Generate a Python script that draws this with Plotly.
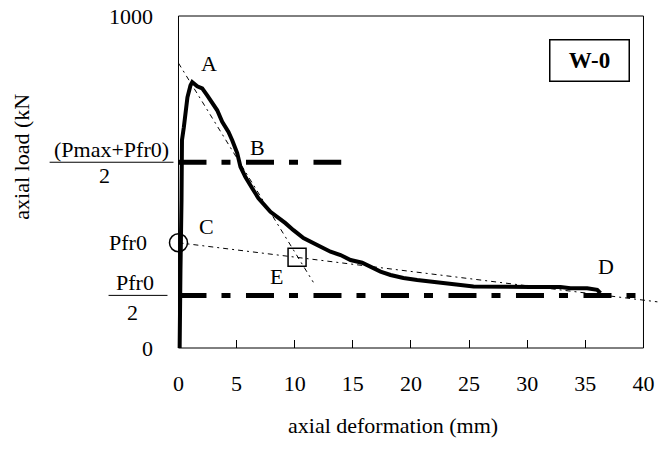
import plotly.graph_objects as go

# ---------------- data ----------------
deform = [0.1, 0.1, 0.1, 0.17, 0.26, 0.30, 0.46, 0.60, 0.77, 1.03, 1.18, 1.61, 2.04,
          2.47, 2.90, 3.33, 3.76, 4.30, 4.62, 5.05, 5.33, 5.76, 6.34, 6.88, 7.91,
          8.49, 9.20, 9.89, 10.75, 11.93, 13.08, 13.94, 14.80, 15.80, 16.52, 17.38,
          18.24, 19.35, 20.53, 21.68, 22.80, 23.97, 25.38, 30.28, 32.86, 33.72,
          35.16, 36.02, 36.30]
load = [0, 144, 214, 235, 445, 626, 665, 716, 755, 791, 801, 788, 782,
        761, 741, 716, 681, 651, 626, 587, 546, 515, 481, 451, 410,
        395, 376, 355, 331, 310, 290, 280, 265, 257, 245, 230,
        220, 211, 205, 200, 196, 190, 185, 184, 184, 180,
        180, 175, 165]

P_MAX = 802
P_FR0 = 317
mid_level = (P_MAX + P_FR0) / 2
half_level = P_FR0 / 2
mid_x = [0, 14.0]
half_x = [0, 39.5]

ab_x = [0, 11.6]
ab_y = [858, 198]
cd_x = [0, 41.2]
cd_y = [317, 139]
e_x = [10.2]
e_y = [273]

x_ticks = [0, 5, 10, 15, 20, 25, 30, 35, 40]
y_ticks = [0, 1000]

pt_labels = ["A", "B", "C", "D", "E"]
pt_lab_x = [2.6, 6.8, 2.4, 36.8, 8.4]
pt_lab_y = [858, 605, 367, 247, 214]

X_FRAME = 40
X_MIN = -0.3
X_MAX = 41.25
Y_MAX = 1000

FONT = "Liberation Serif, Times New Roman, serif"
FS = 22

# plot-area geometry (pixels)
W, H = 658, 459
X0_PX = 178                      # pixel of x = 0
PX_PER_MM = (W - X0_PX) / X_MAX
L = X0_PX + X_MIN * PX_PER_MM
T, R, B = 16, 0, 111
PW = W - L - R
PH = H - T - B


def px_x(p):
    return (p - L) / PW


def px_y(p):
    return (H - B - p) / PH


def data_x_paper(v):
    return (v - X_MIN) / (X_MAX - X_MIN)


def txt(x, y, text, **kw):
    d = dict(x=x, y=y, xref="paper", yref="paper", text=text, showarrow=False,
             xanchor="center", yanchor="middle",
             font=dict(size=FS, family=FONT, color="black"))
    d.update(kw)
    return d


fig = go.Figure()

thick_dash = "28px,15px,9px,15.5px"
thin_dash = "5px,4px,2px,4px"

fig.add_trace(go.Scatter(x=mid_x, y=[mid_level, mid_level], mode="lines",
                         line=dict(color="black", width=5, dash=thick_dash)))
fig.add_trace(go.Scatter(x=half_x, y=[half_level, half_level], mode="lines",
                         line=dict(color="black", width=5, dash=thick_dash)))
fig.add_trace(go.Scatter(x=ab_x, y=ab_y, mode="lines",
                         line=dict(color="black", width=1, dash=thin_dash)))
fig.add_trace(go.Scatter(x=cd_x, y=cd_y, mode="lines",
                         line=dict(color="black", width=1, dash=thin_dash)))
fig.add_trace(go.Scatter(x=deform, y=load, mode="lines",
                         line=dict(color="black", width=4)))
fig.add_trace(go.Scatter(x=[0], y=[P_FR0], mode="markers", cliponaxis=False,
                         marker=dict(symbol="circle-open", size=18, color="black",
                                     line=dict(width=1.5, color="black"))))
fig.add_trace(go.Scatter(x=e_x, y=e_y, mode="markers", cliponaxis=False,
                         marker=dict(symbol="square-open", size=18, color="black",
                                     line=dict(width=1.5, color="black"))))

annotations = []
for t, xx, yy in zip(pt_labels, pt_lab_x, pt_lab_y):
    annotations.append(dict(x=xx, y=yy, xref="x", yref="y", text=t, showarrow=False,
                            xanchor="center", yanchor="middle",
                            font=dict(size=FS, family=FONT, color="black")))

# y-axis fraction labels and titles
annotations += [
    txt(px_x(111), mid_level / Y_MAX, "(Pmax+Pfr0)", yshift=13),
    txt(px_x(104), mid_level / Y_MAX, "2", yshift=-13),
    txt(px_x(148), P_FR0 / Y_MAX, "Pfr0", xanchor="right"),
    txt(px_x(134.5), half_level / Y_MAX, "Pfr0", yshift=13),
    txt(px_x(131.5), half_level / Y_MAX, "2", yshift=-17),
    txt(px_x(21), px_y(157), "axial load (kN", textangle=-90),
    txt(px_x(393), px_y(425), "axial deformation (mm)"),
    txt(px_x(589.5), px_y(60.5), "<b>W-0</b>", width=78, height=40, borderpad=0,
        bordercolor="black", borderwidth=1.5, bgcolor="white",
        font=dict(size=23, family=FONT, color="black")),
]

shapes = [
    # plot frame
    dict(type="rect", xref="paper", yref="paper", x0=data_x_paper(0),
         x1=data_x_paper(X_FRAME), y0=0, y1=1,
         line=dict(color="black", width=1), layer="above"),
    # fraction bars
    dict(type="line", xref="paper", yref="paper", x0=px_x(49), x1=px_x(173),
         y0=mid_level / Y_MAX, y1=mid_level / Y_MAX, line=dict(color="black", width=1)),
    dict(type="line", xref="paper", yref="paper", x0=px_x(108), x1=px_x(167),
         y0=half_level / Y_MAX, y1=half_level / Y_MAX, line=dict(color="black", width=1)),
]

fig.update_layout(
    width=W, height=H, autosize=False,
    margin=dict(l=L, r=R, t=T, b=B, pad=0),
    paper_bgcolor="white", plot_bgcolor="white",
    showlegend=False,
    font=dict(family=FONT, size=FS, color="black"),
    annotations=annotations,
    shapes=shapes,
    xaxis=dict(range=[X_MIN, X_MAX], tickvals=x_ticks, ticktext=[str(v) for v in x_ticks],
               ticks="inside", ticklen=8, tickwidth=1, tickcolor="black",
               showgrid=False, zeroline=False, showline=False,
               ticklabelstandoff=20, tickfont=dict(size=FS, family=FONT, color="black")),
    yaxis=dict(range=[0, Y_MAX], tickvals=y_ticks, ticktext=[str(v) for v in y_ticks],
               ticks="", showgrid=False, zeroline=False, showline=False,
               ticklabelstandoff=int(round(18 + X0_PX - L)),
               tickfont=dict(size=FS, family=FONT, color="black")),
)

fig.write_html("out.html")
